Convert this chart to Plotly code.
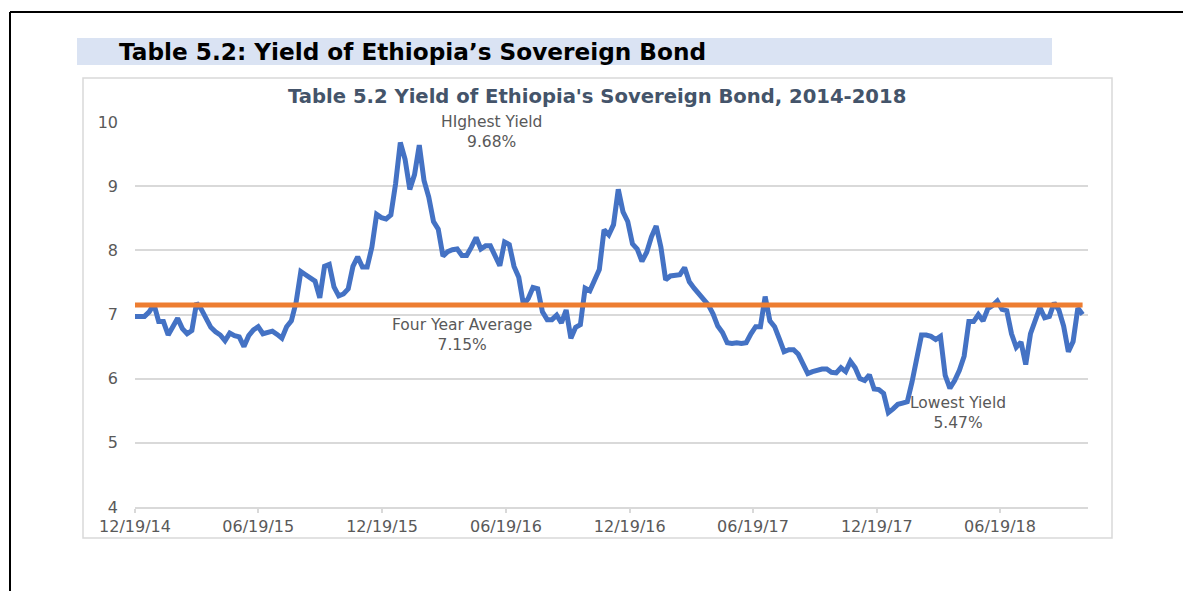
import pandas as pd
import plotly.graph_objects as go

# ---- data (weekly yields) ----
start_date = "2014-12-19"
yield_values = [
    6.97, 6.97, 6.97, 7.04, 7.16, 6.89, 6.89, 6.68, 6.83, 6.94,
    6.78, 6.70, 6.75, 7.18, 7.08, 6.94, 6.80, 6.73, 6.68, 6.59,
    6.71, 6.67, 6.65, 6.50, 6.67, 6.76, 6.81, 6.70, 6.72, 6.74,
    6.69, 6.63, 6.81, 6.90, 7.19, 7.67, 7.62, 7.57, 7.52, 7.26,
    7.75, 7.78, 7.43, 7.29, 7.32, 7.40, 7.75, 7.90, 7.74, 7.74,
    8.05, 8.56, 8.51, 8.49, 8.55, 9.04, 9.68, 9.42, 8.95, 9.18,
    9.64, 9.09, 8.83, 8.45, 8.33, 7.91, 7.98, 8.01, 8.02, 7.92,
    7.92, 8.05, 8.20, 8.02, 8.07, 8.07, 7.91, 7.76, 8.13, 8.09,
    7.75, 7.58, 7.15, 7.25, 7.42, 7.40, 7.04, 6.92, 6.92, 6.99,
    6.87, 7.07, 6.63, 6.80, 6.84, 7.41, 7.37, 7.55, 7.70, 8.32,
    8.24, 8.40, 8.95, 8.60, 8.45, 8.10, 8.02, 7.83, 7.97, 8.21,
    8.38, 8.05, 7.54, 7.60, 7.61, 7.62, 7.73, 7.51, 7.41, 7.32,
    7.21, 7.15, 7.01, 6.82, 6.72, 6.56, 6.55, 6.56, 6.55, 6.56,
    6.70, 6.81, 6.81, 7.28, 6.90, 6.81, 6.62, 6.42, 6.45, 6.45,
    6.38, 6.24, 6.08, 6.11, 6.14, 6.15, 6.15, 6.10, 6.09, 6.17,
    6.11, 6.27, 6.17, 6.00, 5.97, 6.06, 5.84, 5.83, 5.77, 5.47,
    5.53, 5.60, 5.62, 5.64, 5.95, 6.37, 6.68, 6.68, 6.66, 6.61,
    6.66, 6.05, 5.85, 5.97, 6.13, 6.35, 6.89, 6.89, 7.00, 6.90,
    7.09, 7.14, 7.21, 7.08, 7.06, 6.70, 6.49, 6.57, 6.22, 6.70,
    6.92, 7.11, 6.95, 6.97, 7.18, 7.07, 6.82, 6.42, 6.58, 7.10,
    7.00,
]
four_year_average = 7.15
tick_dates = ["2014-12-19", "2015-06-19", "2015-12-19", "2016-06-19",
              "2016-12-19", "2017-06-19", "2017-12-19", "2018-06-19"]
tick_labels = ["12/19/14", "06/19/15", "12/19/15", "06/19/16",
               "12/19/16", "06/19/17", "12/19/17", "06/19/18"]
x_range = ["2014-12-19", "2018-10-27"]

dates = pd.date_range(start_date, periods=len(yield_values), freq="7D")
avg_values = [four_year_average] * len(yield_values)

# ---- layout helpers (reference pixel -> paper; page body has an 8px margin) ----
OFF = 8
W, H = 1191, 591
L, R, T, B = 135 - OFF, 1088 - OFF, 122 - OFF, 507 - OFF
def px(x):
    return (x - OFF - L) / (R - L)
def py(y):
    return (B - (y - OFF)) / (B - T)

fig = go.Figure()
fig.add_trace(go.Scatter(x=dates, y=yield_values, mode="lines",
                         line=dict(color="#4472C4", width=5), showlegend=False))
fig.add_trace(go.Scatter(x=dates, y=avg_values, mode="lines",
                         line=dict(color="#ED7D31", width=5), showlegend=False))

shapes = [
    # outer black frame (top + left)
    dict(type="line", xref="paper", yref="paper", x0=px(10), x1=px(1210), y0=py(12), y1=py(12),
         line=dict(color="black", width=2), layer="below"),
    dict(type="line", xref="paper", yref="paper", x0=px(10), x1=px(10), y0=py(12), y1=py(610),
         line=dict(color="black", width=2), layer="below"),
    # title bar
    dict(type="rect", xref="paper", yref="paper", x0=px(77), x1=px(1052), y0=py(65), y1=py(38),
         fillcolor="#DAE3F3", line=dict(width=0), layer="below"),
    # chart frame
    dict(type="rect", xref="paper", yref="paper", x0=px(83), x1=px(1112), y0=py(538), y1=py(78),
         fillcolor="white", line=dict(color="#D9D9D9", width=1.5), layer="below"),
]

ann_font = dict(family="DejaVu Sans", size=15.5, color="#595959")
annotations = [
    dict(text="<b>Table 5.2: Yield of Ethiopia’s Sovereign Bond</b>", xref="paper", yref="paper",
         x=px(117), y=py(52), xanchor="left", yanchor="middle", showarrow=False,
         font=dict(family="DejaVu Sans", size=23.2, color="black")),
    dict(text="<b>Table 5.2 Yield of Ethiopia's Sovereign Bond, 2014-2018</b>", xref="paper", yref="paper",
         x=px(597), y=py(96), xanchor="center", yanchor="middle", showarrow=False,
         font=dict(family="DejaVu Sans", size=19.6, color="#44546A")),
    dict(text="HIghest Yield<br>9.68%", xref="paper", yref="paper", x=px(491), y=py(132),
         xanchor="center", yanchor="middle", showarrow=False, font=ann_font),
    dict(text="Four Year Average<br>7.15%", xref="paper", yref="paper", x=px(462), y=py(335),
         xanchor="center", yanchor="middle", showarrow=False, font=ann_font),
    dict(text="Lowest Yield<br>5.47%", xref="paper", yref="paper", x=px(958), y=py(413),
         xanchor="center", yanchor="middle", showarrow=False, font=ann_font),
]

fig.update_layout(
    width=W, height=H,
    margin=dict(l=L, r=W - R, t=T, b=H - B, autoexpand=False),
    paper_bgcolor="white", plot_bgcolor="rgba(0,0,0,0)",
    shapes=shapes, annotations=annotations,
    font=dict(family="DejaVu Sans", color="#595959"),
)
fig.update_xaxes(type="date", range=x_range, tickvals=tick_dates, ticktext=tick_labels,
                 showgrid=False, showline=True, linecolor="#D9D9D9", linewidth=1.5,
                 ticks="outside", ticklen=4, tickcolor="#D9D9D9", tickwidth=1.5,
                 ticklabelstandoff=0,
                 tickfont=dict(family="DejaVu Sans", size=16, color="#595959"))
fig.update_yaxes(range=[4, 10], dtick=1, showgrid=True, gridcolor="#D9D9D9", gridwidth=1.5,
                 zeroline=False, showline=False, ticks="", ticklabelstandoff=16,
                 tickfont=dict(family="DejaVu Sans", size=16, color="#595959"))

fig.write_html("out.html")
